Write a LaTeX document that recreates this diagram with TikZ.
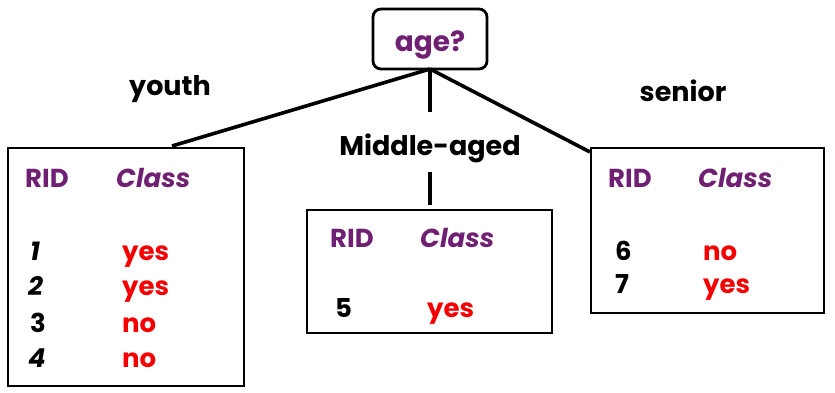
\documentclass[tikz,border=0pt]{standalone}
\usepackage{fontspec}
\setmainfont{Poppins}
\definecolor{attr}{RGB}{112,32,115}
\definecolor{cls}{RGB}{245,0,0}
\begin{document}
\begin{tikzpicture}[x=1pt,y=-1pt,
  box/.style={draw=black,line width=2.8pt},
  root/.style={draw=black,line width=2.8pt,rounded corners=8pt,fill=white},
  branch/.style={line width=3.6pt,black},
  hdr/.style={text=attr,font=\fontsize{26}{28}\selectfont\bfseries,anchor=base west,inner sep=0pt},
  val/.style={text=cls,font=\fontsize{26}{28}\selectfont\bfseries,anchor=base west,inner sep=0pt},
  rid/.style={text=black,font=\fontsize{26}{28}\selectfont\bfseries,anchor=base west,inner sep=0pt},
  lbl/.style={text=black,font=\fontsize{27}{29}\selectfont\bfseries,anchor=base,inner sep=0pt}]
\useasboundingbox (0,0) rectangle (835,393);
% leaf partitions
\draw[box] (8,148) rectangle (244,386);
\draw[box] (307,210) rectangle (552,333);
\draw[box] (591,148) rectangle (824,313);
\coordinate (lt) at (172,146);
\coordinate (rt) at (590,152);
\coordinate (mid) at (430,112);
\coordinate (ms) at (430,172);
\coordinate (me) at (430,205);
% root test node
\node[root,minimum width=114pt,minimum height=60pt] (age) at (430,39) {};
\node[text=attr,font=\fontsize{28}{30}\selectfont\bfseries,anchor=base,inner sep=0pt] (agetxt) at (430,52) {age?};
\coordinate (ab) at (430,69);
\draw[branch] (ab) -- (lt);
\draw[branch] (ab) -- (mid);
\draw[branch] (ab) -- (rt);
\draw[branch] (ms) -- (me);
% branch labels
\node[lbl] (youth) at (170,96) {youth};
\node[lbl] (senior) at (683,102) {senior};
\node[lbl] (middle) at (430,156) {Middle-aged};
% left partition
\node[hdr] (h1) at (25,187) {RID};
\node[hdr] (c1) at (116,187) {\itshape Class};
\node[rid] (r1) at (30,260) {\itshape 1};
\node[val] (v1) at (122,260) {yes};
\node[rid] (r2) at (28,295) {\itshape 2};
\node[val] (v2) at (122,295) {yes};
\node[rid] (r3) at (30,332) {3};
\node[val] (v3) at (122,332) {no};
\node[rid] (r4) at (28,367) {\itshape 4};
\node[val] (v4) at (122,367) {no};
% middle partition
\node[hdr] (h2) at (330,247) {RID};
\node[hdr] (c2) at (420,247) {\itshape Class};
\node[rid] (r5) at (335,317) {5};
\node[val] (v5) at (427,317) {yes};
% right partition
\node[hdr] (h3) at (608,187) {RID};
\node[hdr] (c3) at (698,187) {\itshape Class};
\node[rid] (r6) at (615,260) {6};
\node[val] (v6) at (703,260) {no};
\node[rid] (r7) at (615,293) {7};
\node[val] (v7) at (703,293) {yes};
\end{tikzpicture}
\end{document}
